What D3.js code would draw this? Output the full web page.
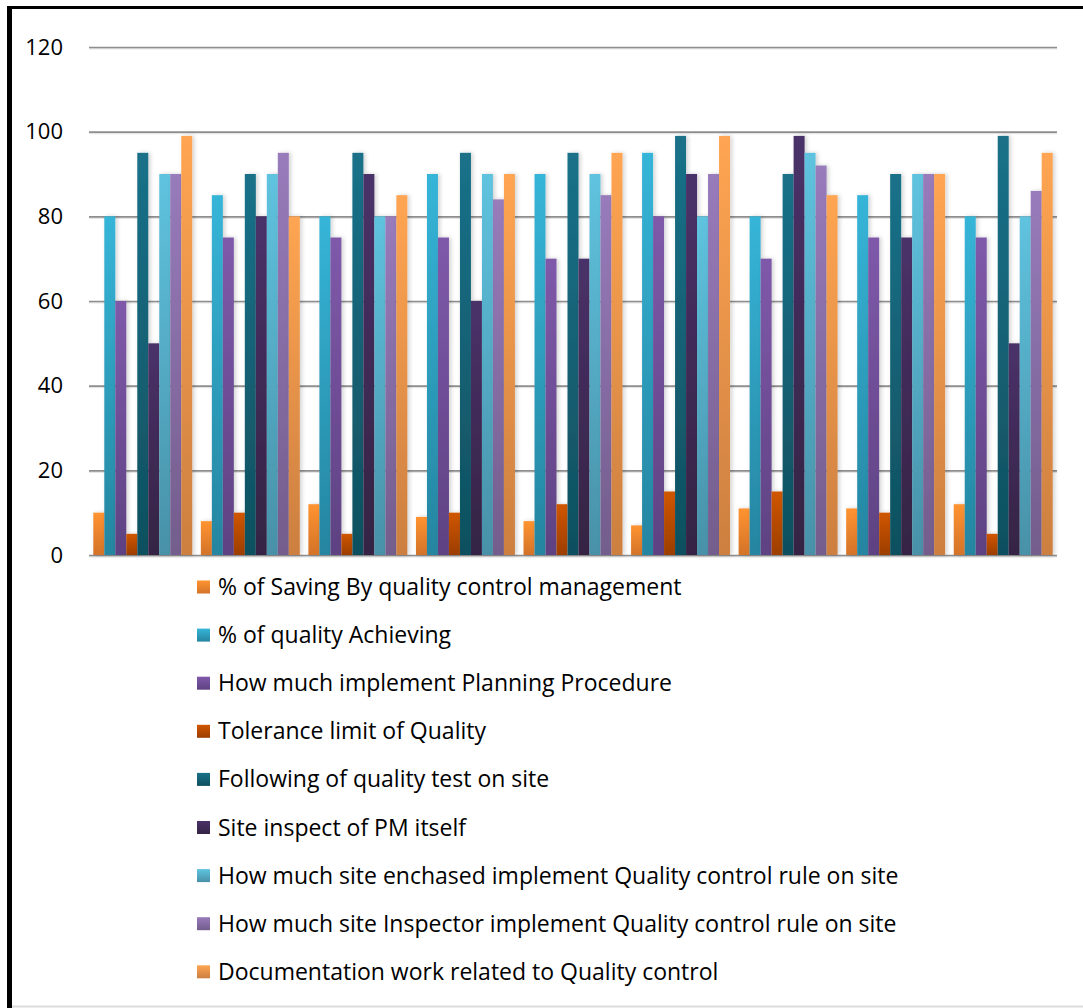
<!DOCTYPE html>
<html>
<head>
<meta charset="utf-8">
<script src="https://cdn.jsdelivr.net/npm/d3@7"></script>
<style>
  body { margin: 0; background: #fff; }
  svg { display: block; }
</style>
</head>
<body>
<div class="canvas"></div>
<script>
// groups along x (no labels shown in the original)
const groups = ['1', '2', '3', '4', '5', '6', '7', '8', '9'];

const seriesNames = [
  '% of Saving By quality control management',
  '% of quality Achieving',
  'How much implement Planning Procedure',
  'Tolerance limit of Quality',
  'Following of quality test on site',
  'Site inspect of PM itself',
  'How much site enchased implement Quality control rule on site',
  'How much site Inspector implement Quality control rule on site',
  'Documentation work related to Quality control'
];

// one array per series, one value per group
const saving     = [10, 8, 12, 9, 8, 7, 11, 11, 12];
const achieving  = [80, 85, 80, 90, 90, 95, 80, 85, 80];
const planning   = [60, 75, 75, 75, 70, 80, 70, 75, 75];
const tolerance  = [5, 10, 5, 10, 12, 15, 15, 10, 5];
const following  = [95, 90, 95, 95, 95, 99, 90, 90, 99];
const pmInspect  = [50, 80, 90, 60, 70, 90, 99, 75, 50];
const enchased   = [90, 90, 80, 90, 90, 80, 95, 90, 80];
const inspector  = [90, 95, 80, 84, 85, 90, 92, 90, 86];
const documented = [99, 80, 85, 90, 95, 99, 85, 90, 95];

const seriesValues = [saving, achieving, planning, tolerance, following,
  pmInspect, enchased, inspector, documented];

const yTicks = [0, 20, 40, 60, 80, 100, 120];

// gradient top / bottom colours per series
const colorsTop = ['#ff9330', '#36b5d8', '#7f59aa', '#d05600', '#1a7189',
  '#4a3169', '#5fc3df', '#987bbb', '#ffa552'];
const colorsBottom = ['#d3732a', '#2585a0', '#5e4282', '#9c3e02', '#0f505f',
  '#352444', '#4891a8', '#735d8c', '#cc7f40'];

const dims = {
  width: 1083,
  height: 1008,
  plotLeft: 89,
  plotRight: 1057,
  plotTop: 47,
  plotBottom: 555,
  font: '"Open Sans", Lato, sans-serif'
};

const svg = d3.select('.canvas')
  .append('svg')
  .attr('width', dims.width)
  .attr('height', dims.height);

const defs = svg.append('defs');

seriesNames.forEach((name, i) => {
  const grad = defs.append('linearGradient')
    .attr('id', `grad${i}`)
    .attr('x1', 0).attr('y1', 0)
    .attr('x2', 0).attr('y2', 1);
  grad.append('stop').attr('offset', '0%').attr('stop-color', colorsTop[i]);
  grad.append('stop').attr('offset', '100%').attr('stop-color', colorsBottom[i]);
});

const shadow = defs.append('filter')
  .attr('id', 'barShadow')
  .attr('x', '-50%').attr('y', '-10%')
  .attr('width', '200%').attr('height', '120%');
shadow.append('feDropShadow')
  .attr('dx', 2).attr('dy', 0)
  .attr('stdDeviation', 2)
  .attr('flood-color', '#000')
  .attr('flood-opacity', 0.18);

// frame: black top and left edges, light bottom edge
svg.append('line')
  .attr('x1', 7).attr('x2', dims.width)
  .attr('y1', 7.5).attr('y2', 7.5)
  .attr('stroke', '#000').attr('stroke-width', 3);
svg.append('line')
  .attr('x1', 9.5).attr('x2', 9.5)
  .attr('y1', 6).attr('y2', dims.height)
  .attr('stroke', '#000').attr('stroke-width', 5);
svg.append('line')
  .attr('x1', 12).attr('x2', dims.width)
  .attr('y1', 1006.5).attr('y2', 1006.5)
  .attr('stroke', '#dcdcdc').attr('stroke-width', 2);

// scales
const y = d3.scaleLinear()
  .domain([0, 120])
  .range([dims.plotBottom, dims.plotTop]);

const x0 = d3.scaleBand()
  .domain(groups)
  .range([dims.plotLeft, dims.plotRight])
  .paddingInner(0.08)
  .paddingOuter(0.04);

const x1 = d3.scaleBand()
  .domain(d3.range(seriesNames.length))
  .range([0, x0.bandwidth()]);

// soft shadow under each gridline
svg.append('g')
  .selectAll('line')
  .data(yTicks)
  .enter()
  .append('line')
  .attr('x1', dims.plotLeft)
  .attr('x2', dims.plotRight)
  .attr('y1', (d) => y(d) + 1.8)
  .attr('y2', (d) => y(d) + 1.8)
  .attr('stroke', '#000')
  .attr('stroke-opacity', 0.1)
  .attr('stroke-width', 1.5);

// gridlines + y labels via axis
const yAxis = d3.axisLeft(y)
  .tickValues(yTicks)
  .tickSize(-(dims.plotRight - dims.plotLeft))
  .tickPadding(26);

const yAxisGroup = svg.append('g')
  .attr('transform', `translate(${dims.plotLeft}, 0)`)
  .call(yAxis);

yAxisGroup.select('.domain').remove();
yAxisGroup.selectAll('.tick line')
  .attr('stroke', '#8e8e8e')
  .attr('stroke-width', 1.6);
yAxisGroup.selectAll('.tick text')
  .attr('fill', '#000')
  .attr('font-family', dims.font)
  .attr('font-size', 22);

// bars
const graph = svg.append('g');

const groupG = graph.selectAll('g.group')
  .data(groups)
  .enter()
  .append('g')
  .attr('class', 'group')
  .attr('transform', (d) => `translate(${x0(d)}, 0)`);

groupG.selectAll('rect')
  .data((g, gi) => seriesValues.map((vals, si) => ({ series: si, value: vals[gi] })))
  .enter()
  .append('rect')
  .attr('x', (d) => x1(d.series))
  .attr('y', (d) => y(d.value))
  .attr('width', x1.bandwidth())
  .attr('height', (d) => y(0) - y(d.value))
  .attr('fill', (d) => `url(#grad${d.series})`)
  .attr('filter', 'url(#barShadow)');

// legend
const legend = svg.append('g')
  .attr('transform', 'translate(197, 587)');

const legendRow = 48.1;

const items = legend.selectAll('g.item')
  .data(seriesNames)
  .enter()
  .append('g')
  .attr('class', 'item')
  .attr('transform', (d, i) => `translate(0, ${i * legendRow})`);

items.append('rect')
  .attr('x', 0)
  .attr('y', -6.5)
  .attr('width', 13)
  .attr('height', 13)
  .attr('fill', (d, i) => `url(#grad${i})`);

items.append('text')
  .attr('x', 21)
  .attr('y', 0)
  .attr('dy', '0.35em')
  .attr('font-family', dims.font)
  .attr('font-size', 23)
  .attr('fill', '#000')
  .text((d) => d);
</script>
</body>
</html>
